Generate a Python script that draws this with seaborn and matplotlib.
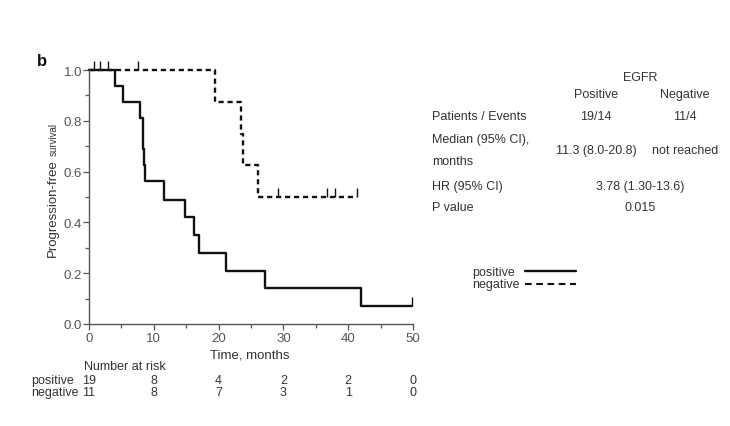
"""
plot.py

Kaplan-Meier style progression-free survival by EGFR status,
with number-at-risk table and summary statistics.
"""

import pandas as pd
import matplotlib.pyplot as plt
import matplotlib.transforms as mtransforms
import seaborn as sns

# Step curves (time in months, survival probability)
pos_times = [0, 4.0, 5.3, 7.8, 8.3, 8.4, 8.5, 8.7, 11.5, 14.8, 16.2, 16.9,
             21.1, 27.2, 41.9, 49.9]
pos_surv = [1.0, 0.9375, 0.875, 0.8125, 0.75, 0.6875, 0.625, 0.5625, 0.49,
            0.42, 0.35, 0.28, 0.21, 0.14, 0.07, 0.07]
neg_times = [0, 19.4, 23.5, 23.8, 26.1, 41.3]
neg_surv = [1.0, 0.875, 0.75, 0.625, 0.5, 0.5]

# Censoring marks
pos_censor_t = [0.7, 1.7, 3.0, 49.9]
pos_censor_s = [1.0, 1.0, 1.0, 0.07]
neg_censor_t = [7.6, 29.1, 36.7, 37.9, 41.3]
neg_censor_s = [1.0, 0.5, 0.5, 0.5, 0.5]

# Number at risk
risk_times = [0, 10, 20, 30, 40, 50]
risk_pos = [19, 8, 4, 2, 2, 0]
risk_neg = [11, 8, 7, 3, 1, 0]

# Summary table
table_rows = ["Patients / Events", "Median (95% CI),", "months",
              "HR (95% CI)", "P value"]

W, H = 730, 427
TXT = "#333333"
GREY = "#555555"
NARROW = ['Liberation Sans Narrow', 'Liberation Sans', 'DejaVu Sans']


def fx(x):
    return x / W


def fy(y):
    return 1 - y / H


# ====================
def main():
    sns.set_theme(style="white")
    plt.rcParams['font.family'] = ['Liberation Sans', 'DejaVu Sans']

    fig = plt.figure(figsize=(W / 100, H / 100), dpi=100)
    ax = fig.add_axes([fx(89), fy(325), fx(413) - fx(89), fy(71) - fy(325)])

    curves = pd.concat([
        pd.DataFrame({"time": pos_times, "surv": pos_surv, "group": "positive"}),
        pd.DataFrame({"time": neg_times, "surv": neg_surv, "group": "negative"}),
    ])
    sns.lineplot(data=curves, x="time", y="surv", hue="group", style="group",
                 palette={"positive": "#111111", "negative": "#111111"},
                 dashes={"positive": "", "negative": (2.2, 1.6)},
                 drawstyle="steps-post", linewidth=1.7, legend=False,
                 estimator=None, sort=False, ax=ax, clip_on=False)

    # Censor ticks drawn upward from the curve
    ax.vlines(pos_censor_t, pos_censor_s, [s + 0.035 for s in pos_censor_s],
              color="#111111", linewidth=1.0, clip_on=False)
    ax.vlines(neg_censor_t, neg_censor_s, [s + 0.035 for s in neg_censor_s],
              color="#111111", linewidth=1.0, clip_on=False)

    ax.set_xlim(0, 50)
    ax.set_ylim(0, 1.0)
    ax.set_xticks(range(0, 51, 10))
    ax.set_xticks(range(5, 50, 10), minor=True)
    ax.set_yticks([0, 0.2, 0.4, 0.6, 0.8, 1.0])
    ax.set_yticks([0.1, 0.3, 0.5, 0.7, 0.9], minor=True)
    ax.set_yticklabels([f"{v:.1f}" for v in [0, 0.2, 0.4, 0.6, 0.8, 1.0]])
    ax.tick_params(axis="both", which="both", direction="out", colors=GREY,
                   labelsize=9.5, width=0.9, bottom=True, left=True)
    ax.tick_params(which="major", length=4)
    ax.tick_params(which="minor", length=3)
    ax.tick_params(axis="x", pad=2)
    ax.tick_params(axis="y", pad=1)
    for lab in ax.get_xticklabels() + ax.get_yticklabels():
        lab.set_family(NARROW)
    for side in ["top", "right"]:
        ax.spines[side].set_visible(False)
    for side in ["left", "bottom"]:
        ax.spines[side].set_color(GREY)
        ax.spines[side].set_linewidth(1.0)
    ax.set_xlabel("")
    ax.set_ylabel("")

    # Y label in two sizes, second part placed after the first
    ylab = fig.text(fx(53), fy(257), "Progression-free", rotation=90,
                    fontsize=9.5, family=NARROW, color=TXT,
                    ha="center", va="bottom")
    bb = ylab.get_window_extent(fig.canvas.get_renderer())
    fig.text(fx(54), (bb.y1 + 3) / H, "survival", rotation=90, fontsize=7,
             family=NARROW, color=TXT, ha="center", va="bottom")

    fig.text(fx(37), fy(62), "b", fontsize=12, fontweight="bold",
             color="#111111", ha="left", va="center")

    fig.text(fx(250), fy(355), "Time, months", fontsize=9.5, color=TXT,
             ha="center", va="center")

    # Number-at-risk table aligned to the time axis
    trans = mtransforms.blended_transform_factory(ax.transData, fig.transFigure)
    fig.text(fx(84), fy(367), "Number at risk", fontsize=9, color=TXT,
             ha="left", va="center")
    fig.text(fx(31), fy(381), "positive", fontsize=9, color=TXT,
             ha="left", va="center")
    fig.text(fx(31), fy(393), "negative", fontsize=9, color=TXT,
             ha="left", va="center")
    for t, p, n in zip(risk_times, risk_pos, risk_neg):
        ax.text(t, fy(381), str(p), transform=trans, fontsize=9, color=TXT,
                ha="center", va="center")
        ax.text(t, fy(393), str(n), transform=trans, fontsize=9, color=TXT,
                ha="center", va="center")

    # Summary statistics table
    fs = 9
    fig.text(fx(640), fy(78), "EGFR", fontsize=fs, color=TXT, ha="center",
             va="center")
    fig.text(fx(596), fy(95), "Positive", fontsize=fs, color=TXT,
             ha="center", va="center")
    fig.text(fx(685), fy(95), "Negative", fontsize=fs, color=TXT,
             ha="center", va="center")
    row_y = [117, 140, 162, 187, 208]
    for label, y in zip(table_rows, row_y):
        fig.text(fx(432), fy(y), label, fontsize=fs, color=TXT, ha="left",
                 va="center")
    fig.text(fx(596), fy(117), "19/14", fontsize=fs, color=TXT, ha="center",
             va="center")
    fig.text(fx(685), fy(117), "11/4", fontsize=fs, color=TXT, ha="center",
             va="center")
    fig.text(fx(596), fy(151), "11.3 (8.0-20.8)", fontsize=fs, color=TXT,
             ha="center", va="center")
    fig.text(fx(685), fy(151), "not reached", fontsize=fs, color=TXT,
             ha="center", va="center")
    fig.text(fx(640), fy(187), "3.78 (1.30-13.6)", fontsize=fs, color=TXT,
             ha="center", va="center")
    fig.text(fx(640), fy(208), "0.015", fontsize=fs, color=TXT, ha="center",
             va="center")

    # Legend drawn by hand to match the original layout
    fig.text(fx(472), fy(273), "positive", fontsize=9, color=TXT,
             ha="left", va="center")
    fig.text(fx(472), fy(285), "negative", fontsize=9, color=TXT,
             ha="left", va="center")
    fig.add_artist(plt.Line2D([fx(525), fx(576)], [fy(272), fy(272)],
                              color="#111111", linewidth=1.7))
    fig.add_artist(plt.Line2D([fx(525), fx(576)], [fy(285), fy(285)],
                              color="#111111", linewidth=1.5,
                              dashes=(3.2, 2.2)))

    fig.savefig("out.png", dpi=100)


# ====================
if __name__ == "__main__":

    main()
